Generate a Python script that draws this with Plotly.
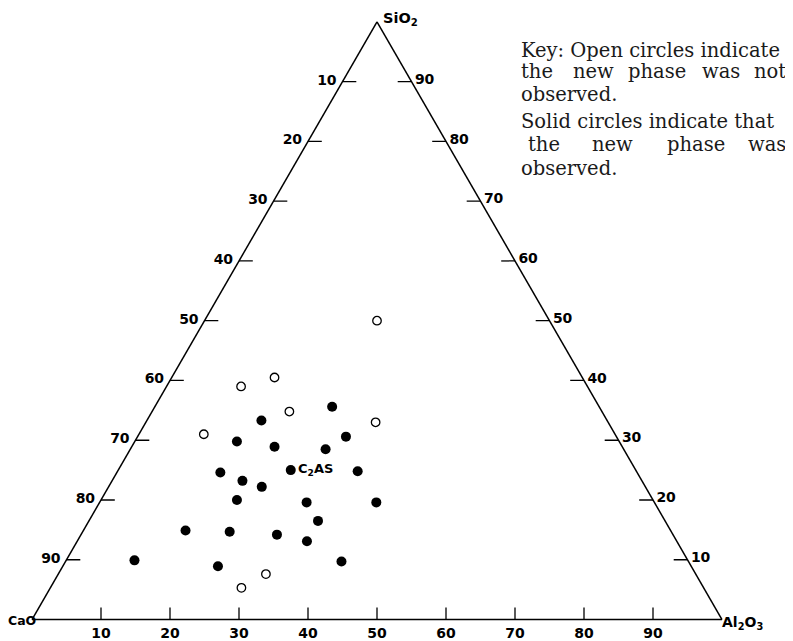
import plotly.graph_objects as go

# ---- data (mol %), a = SiO2, b = CaO, c = Al2O3 ----
open_sio2 = [50.0, 39.0, 40.5, 34.8, 33.0, 31.0, 7.6, 5.3]
open_cao = [25.0, 50.2, 44.6, 45.3, 33.7, 59.6, 62.3, 67.0]
open_al2o3 = [25.0, 10.8, 14.9, 19.9, 33.3, 9.4, 30.1, 27.7]

solid_sio2 = [35.6, 33.3, 30.6, 29.8, 28.9, 28.5, 24.6, 24.8, 23.2, 22.2, 20.0,
              19.6, 19.6, 16.5, 14.9, 14.7, 14.2, 13.1, 8.9, 9.7, 9.9]
solid_cao = [38.7, 50.1, 39.2, 55.4, 50.4, 43.2, 60.4, 40.4, 57.9, 55.6, 60.3,
             50.4, 40.3, 50.3, 70.3, 64.0, 57.4, 53.6, 68.6, 50.3, 80.2]
solid_al2o3 = [25.7, 16.6, 30.2, 14.8, 20.7, 28.3, 15.0, 34.8, 18.9, 22.2, 19.7,
               30.0, 40.1, 33.2, 14.8, 21.3, 28.4, 33.3, 22.5, 40.0, 9.9]

c2as_sio2 = [25.0]
c2as_cao = [50.0]
c2as_al2o3 = [25.0]
c2as_label = ["C<sub>2</sub>AS"]

tick_values = [10, 20, 30, 40, 50, 60, 70, 80, 90]
tick_labels = ["90", "80", "70", "60", "50", "40", "30", "20", "10"]

# ---- tick mark segments (drawn inside the triangle) ----
SIDE_LEN = 2.0   # horizontal ticks on side edges (percent units)
BOT_LEN = 2.0    # vertical ticks on bottom edge
ta, tb, tc = [], [], []
for t in tick_values:
    # left edge (c = 0), horizontal tick going right
    ta += [t, t, None]; tb += [100 - t, 100 - t - SIDE_LEN, None]; tc += [0, SIDE_LEN, None]
    # right edge (b = 0), horizontal tick going left
    ta += [t, t, None]; tb += [0, SIDE_LEN, None]; tc += [100 - t, 100 - t - SIDE_LEN, None]
    # bottom edge (a = 0), vertical tick going up
    ta += [0, BOT_LEN, None]; tb += [100 - t, 100 - t - BOT_LEN / 2, None]; tc += [t, t - BOT_LEN / 2, None]

fig = go.Figure()

fig.add_trace(go.Scatterternary(
    a=ta, b=tb, c=tc, mode="lines",
    line=dict(color="black", width=1.3), hoverinfo="skip", showlegend=False))

fig.add_trace(go.Scatterternary(
    a=open_sio2, b=open_cao, c=open_al2o3, mode="markers",
    marker=dict(symbol="circle", size=8.5, color="white",
                line=dict(color="black", width=1.3)),
    name="not observed", showlegend=False))

fig.add_trace(go.Scatterternary(
    a=solid_sio2, b=solid_cao, c=solid_al2o3, mode="markers",
    marker=dict(symbol="circle", size=10, color="black", line=dict(width=0)),
    name="observed", showlegend=False))

fig.add_trace(go.Scatterternary(
    a=c2as_sio2, b=c2as_cao, c=c2as_al2o3, mode="markers+text",
    text=c2as_label, textposition="middle right",
    textfont=dict(family="DejaVu Sans", size=13, color="black", weight="bold"),
    marker=dict(symbol="circle", size=10, color="black"),
    name="C2AS", showlegend=False))

tickfont = dict(family="DejaVu Sans", size=14, color="black", weight="bold")

def axis(ticklen):
    return dict(
        min=0, showgrid=False, showline=True, linecolor="black", linewidth=1.5,
        ticks="outside", ticklen=ticklen, tickcolor="rgba(0,0,0,0)",
        tickmode="array", tickvals=tick_values, ticktext=tick_labels,
        tickfont=tickfont, title=dict(text=""))

# page is rendered with an 8px body margin -> figure is offset by OX, OY
OX, OY = 8, 8
W, H = 793 - OX, 641 - OY
x0, base = 32 - OX, 690
ybot = 619.5 - OY
tri_h = base * 3 ** 0.5 / 2

fig.update_layout(
    width=W, height=H,
    margin=dict(l=0, r=0, t=0, b=0),
    paper_bgcolor="white",
    ternary=dict(
        sum=100,
        bgcolor="white",
        domain=dict(x=[x0 / W, (x0 + base) / W],
                    y=[(H - ybot) / H, (H - ybot + tri_h) / H]),
        aaxis=axis(3), baxis=axis(0), caxis=axis(1)),
)

ann = []

def px2paper(px, py):
    return (px - OX) / W, 1 - (py - OY) / H

def add_text(text, px, py, font, anchor="left"):
    x, y = px2paper(px, py)
    ann.append(dict(text=text, x=x, y=y, xanchor=anchor, yanchor="middle",
                    font=font, xref="paper", yref="paper", showarrow=False,
                    borderpad=0))

lab_font = dict(family="DejaVu Sans", size=14, color="black", weight="bold")
add_text("SiO<sub>2</sub>", 382, 19, dict(lab_font, size=14.5))
add_text("CaO", 37, 620, dict(lab_font, size=12.5), anchor="right")
add_text("Al<sub>2</sub>O<sub>3</sub>", 721, 623, lab_font)

key_font = dict(family="DejaVu Serif", size=19.5, color="#1a1a1a")
add_text("Key: Open circles indicate", 520, 50, key_font)
for word, px in [("the", 520), ("new", 572), ("phase", 627), ("was", 701), ("not", 753)]:
    add_text(word, px, 72, key_font)
add_text("observed.", 520, 95, key_font)
add_text("Solid circles indicate that", 520, 122, key_font)
for word, px in [("the", 544), ("new", 612), ("phase", 696), ("was", 767)]:
    add_text(word, px, 145, key_font, anchor="center")
add_text("observed.", 520, 168, key_font)

fig.update_layout(annotations=ann)

fig.write_html("out.html")
